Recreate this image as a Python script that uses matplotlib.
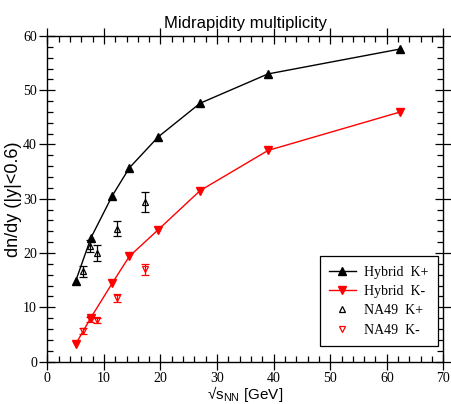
import matplotlib
matplotlib.use("Agg")
import matplotlib.pyplot as plt
from matplotlib.ticker import MultipleLocator

# Hybrid model curves
hyb_energy = [5.0, 7.7, 11.5, 14.5, 19.6, 27.0, 39.0, 62.4]
hyb_kplus = [14.8, 22.8, 30.6, 35.7, 41.4, 47.6, 53.0, 57.6]
hyb_kminus = [3.2, 8.1, 14.5, 19.4, 24.3, 31.5, 38.9, 46.0]

# NA49 data
na49_energy = [6.3, 7.6, 8.8, 12.3, 17.3]
na49_kplus = [16.6, 21.3, 20.0, 24.5, 29.4]
na49_kplus_err = [1.0, 1.1, 1.4, 1.4, 1.8]
na49_kminus = [5.6, 7.8, 7.6, 11.7, 17.0]
na49_kminus_err = [0.5, 0.5, 0.5, 0.7, 1.0]

fig = plt.figure(figsize=(4.51, 4.04), dpi=100)
ax = fig.add_axes([0.105, 0.105, 0.878, 0.806])

ax.plot(hyb_energy, hyb_kplus, color="black", lw=1.0, marker="^", ms=6,
        label="Hybrid  K+")
ax.plot(hyb_energy, hyb_kminus, color="red", lw=1.0, marker="v", ms=6,
        label="Hybrid  K-")

# NA49 points with error bars (legend shows only the open markers)
ax.errorbar(na49_energy, na49_kplus, yerr=na49_kplus_err, fmt="none",
            ecolor="black", elinewidth=0.9, capsize=3, capthick=0.9)
ax.errorbar(na49_energy, na49_kminus, yerr=na49_kminus_err, fmt="none",
            ecolor="red", elinewidth=0.9, capsize=3, capthick=0.9)
ax.plot(na49_energy, na49_kplus, ls="none", marker="^", ms=5, mfc="none",
        mec="black", mew=0.9, label="NA49  K+")
ax.plot(na49_energy, na49_kminus, ls="none", marker="v", ms=5, mfc="none",
        mec="red", mew=0.9, label="NA49  K-")

ax.set_xlim(0, 70)
ax.set_ylim(0, 60)
ax.xaxis.set_major_locator(MultipleLocator(10))
ax.xaxis.set_minor_locator(MultipleLocator(2))
ax.yaxis.set_major_locator(MultipleLocator(10))
ax.yaxis.set_minor_locator(MultipleLocator(2))
ax.tick_params(which="both", top=True, right=True, labelsize=10, width=0.9)
ax.tick_params(which="major", direction="inout", length=12, pad=1.5)
ax.tick_params(which="minor", direction="in", length=4)
for lab in ax.get_xticklabels() + ax.get_yticklabels():
    lab.set_fontfamily("Liberation Serif")
for s in ax.spines.values():
    s.set_linewidth(1.0)

ax.set_title("Midrapidity multiplicity", fontsize=12, family="Liberation Sans", pad=6)
ax.set_ylabel("dn/dy (|y|<0.6)", fontsize=13, family="Liberation Sans", labelpad=1)
ax.set_xlabel("\u221as$_{\\mathregular{NN}}$ [GeV]", fontsize=11,
              family=["Liberation Sans", "DejaVu Sans"], labelpad=-1)

leg = ax.legend(loc="lower right", bbox_to_anchor=(0.987, 0.047), borderaxespad=0,
                prop={"family": "Liberation Serif", "size": 10},
                fancybox=False, edgecolor="black", framealpha=1,
                handlelength=1.9, handletextpad=0.6, borderpad=0.7,
                labelspacing=0.45)
leg.get_frame().set_linewidth(0.9)

fig.savefig("out.png", dpi=100)
